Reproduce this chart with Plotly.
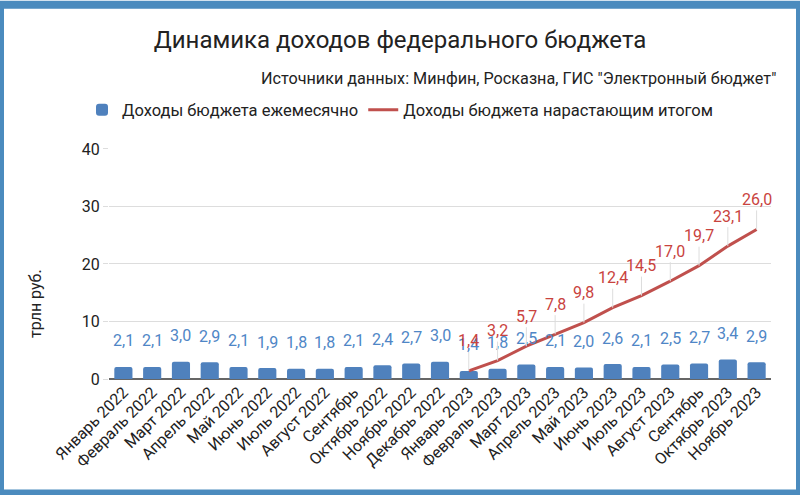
import plotly.graph_objects as go

months = ['Январь 2022', 'Февраль 2022', 'Март 2022', 'Апрель 2022', 'Май 2022',
          'Июнь 2022', 'Июль 2022', 'Август 2022', 'Сентябрь', 'Октябрь 2022',
          'Ноябрь 2022', 'Декабрь 2022', 'Январь 2023', 'Февраль 2023', 'Март 2023',
          'Апрель 2023', 'Май 2023', 'Июнь 2023', 'Июль 2023', 'Август 2023',
          'Сентябрь', 'Октябрь 2023', 'Ноябрь 2023']

monthly = [2.1, 2.1, 3.0, 2.9, 2.1, 1.9, 1.8, 1.8, 2.1, 2.4, 2.7, 3.0,
           1.4, 1.8, 2.5, 2.1, 2.0, 2.6, 2.1, 2.5, 2.7, 3.4, 2.9]

# cumulative total is only shown for 2023
cumulative_2023 = [1.4, 3.2, 5.7, 7.8, 9.8, 12.4, 14.5, 17.0, 19.7, 23.1, 26.0]
cumulative = [None] * 12 + cumulative_2023

y_ticks = [0, 10, 20, 30, 40]

# "Сентябрь" occurs twice, so use positions + tick text
xs = list(range(len(months)))

BLUE = '#4f81bd'
BLUE_TXT = '#4f86c6'
RED = '#c0504d'
RED_TXT = '#c9433e'
FONT = 'Roboto'


def fmt(v):
    return f'{v:.1f}'.replace('.', ',')


fig = go.Figure()

fig.add_trace(go.Bar(x=xs, y=monthly, name='Доходы бюджета ежемесячно',
                     marker=dict(color=BLUE, line=dict(width=0))))
fig.add_trace(go.Scatter(x=xs, y=cumulative, mode='lines',
                         name='Доходы бюджета нарастающим итогом',
                         line=dict(color=RED, width=3)))

annotations = []
for x, v in zip(xs, monthly):
    annotations.append(dict(x=x, y=v, text=fmt(v), showarrow=False,
                            yanchor='middle', yshift=26,
                            font=dict(family=FONT, size=16, color=BLUE_TXT)))
for x, v in zip(xs, cumulative):
    if v is None:
        continue
    annotations.append(dict(x=x, y=v, text=fmt(v), showarrow=True,
                            arrowhead=0, arrowwidth=1, arrowcolor='#dddddd',
                            ax=0, ay=-30, standoff=0,
                            font=dict(family=FONT, size=16, color=RED_TXT)))

# y-axis title, sits a bit below the middle of the plot
annotations.append(dict(xref='paper', yref='paper', x=-0.112, y=0.33,
                        xanchor='center', yanchor='middle',
                        text='трлн руб.', textangle=-90, showarrow=False,
                        font=dict(family=FONT, size=16, color='#222222')))

# subtitle
annotations.append(dict(xref='paper', yref='paper', x=1.01, y=1.305,
                        xanchor='right', yanchor='middle',
                        text='Источники данных: Минфин, Росказна, ГИС "Электронный бюджет"',
                        showarrow=False,
                        font=dict(family=FONT, size=16.2, color='#222222')))

fig.update_layout(
    width=800, height=495,
    margin=dict(l=109, r=29, t=146, b=116),
    paper_bgcolor='white', plot_bgcolor='white',
    font=dict(family=FONT, color='#222222'),
    title=dict(text='Динамика доходов федерального бюджета',
               x=0.5, xref='container', xanchor='center',
               y=1 - 40 / 495, yref='container', yanchor='middle',
               font=dict(family=FONT, size=24, color='#222222')),
    showlegend=True,
    legend=dict(orientation='h', xref='container', yref='container',
                x=0.5, xanchor='center', y=1 - 110 / 495, yanchor='middle',
                font=dict(family=FONT, size=16.5, color='#222222'),
                itemwidth=30, traceorder='normal'),
    bargap=0.37,
    barcornerradius=2,
    annotations=annotations,
    shapes=[dict(type='rect', xref='paper', yref='paper',
                 x0=-109 / 662, x1=1 + 29 / 662,
                 y0=-116 / 233, y1=1 + 146 / 233,
                 line=dict(color='#4b8bbe', width=8), fillcolor='rgba(0,0,0,0)',
                 layer='above')],
)

fig.update_xaxes(
    tickmode='array', tickvals=xs, ticktext=months,
    tickangle=-45, range=[-0.5, len(months) - 0.5],
    showgrid=False, showline=False, zeroline=False,
    tickfont=dict(family=FONT, size=16, color='#222222'),
)

fig.update_yaxes(
    range=[0, 40], tickvals=y_ticks,
    showgrid=True, gridcolor='#dddddd', gridwidth=1,
    zeroline=True, zerolinecolor='#666666', zerolinewidth=2,
    ticks='outside', ticklen=5, tickcolor='#dddddd',
    tickfont=dict(family=FONT, size=16, color='#222222'),
)

# drop the default page margin so the frame sits on the window edges
fig.write_html('out.html', config={'displayModeBar': False},
               post_script="document.body.style.margin='0';")
